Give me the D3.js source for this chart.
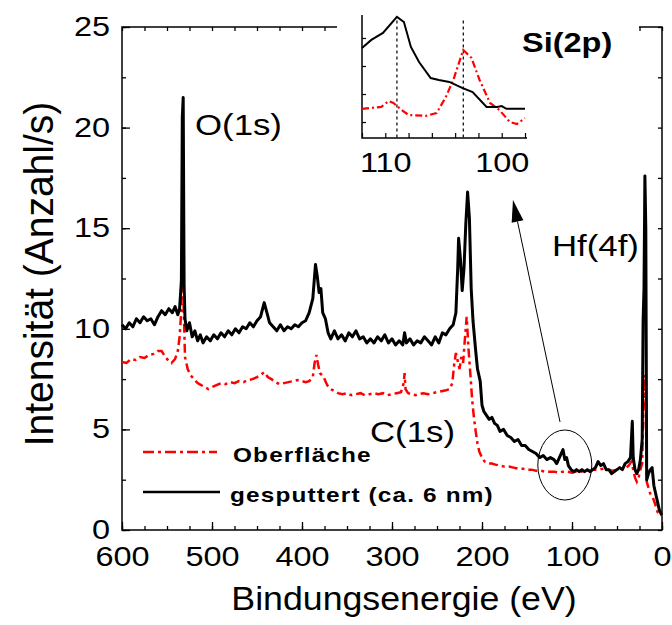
<!DOCTYPE html>
<html>
<head>
<meta charset="utf-8">
<script src="https://cdn.jsdelivr.net/npm/d3@7"></script>
<style>
  html, body { margin: 0; padding: 0; background: #fff; }
  svg { display: block; font-family: "Liberation Sans", Arial, sans-serif; }
</style>
</head>
<body>
<svg id="chart" width="672" height="625"></svg>
<script>
// XPS survey, sputtered sample (black) vs. surface (red dash-dot)
const sputteredEnergy = [600,596,592,588,584,580,576,572,568,564,560,556,552,548,544,541,538,536,534,533,532,531,530,528,525,522,519,516,513,510,506,502,498,494,490,486,482,478,474,470,466,462,458,454,450,446,442,439,436,432,428,424,420,416,412,408,404,400,396,392,388,385,383,381,379,377,374,371,368,364,360,356,352,348,344,340,336,332,328,324,320,316,312,308,304,300,296,292,288,286,284,280,276,272,268,264,260,256,252,248,244,240,236,232,229,227,226,224,222,220,218,216,214,212,210,207,205,202,200,198,195,192,189,186,183,180,176,172,168,164,160,156,152,148,144,140,136,132,128,124,120,117,114,112,110,108,106,104,101,98,95,92,89,86,83,80,77,74,71,68,65,62,59,56,53,50,47,44,41,38,35,33,32,30,28,26,24,22,21,20,19,18,17,15,13,11,9,7,5,3,1,0];
const sputtered = [10.2,10.0,10.3,10.1,10.5,10.3,10.6,10.4,10.5,10.2,10.6,10.9,10.7,11.0,10.8,11.1,10.7,11.0,12.4,20.5,21.5,12.2,10.5,9.9,10.3,9.6,9.9,9.4,9.7,9.3,9.6,9.4,9.7,9.5,9.8,9.6,9.9,9.7,10.0,9.8,10.1,10.0,10.3,10.1,10.4,10.6,11.3,10.8,10.3,10.1,9.9,10.2,9.9,10.1,10.0,10.2,10.1,10.3,10.4,10.8,11.5,13.2,12.6,11.8,12.0,10.8,10.5,9.8,9.5,9.9,9.5,9.7,9.4,9.8,9.6,9.9,9.5,9.6,9.3,9.5,9.3,9.6,9.4,9.7,9.3,9.5,9.2,9.4,9.2,9.8,9.3,9.5,9.2,9.4,9.3,9.6,9.4,9.2,9.6,9.3,9.8,9.7,10.0,10.2,10.8,13.0,14.5,13.5,11.9,13.0,15.2,16.8,15.5,12.0,10.4,8.9,8.0,7.4,6.2,5.9,5.7,5.5,5.6,5.3,5.2,4.9,5.0,4.7,4.6,4.4,4.5,4.2,4.2,4.0,3.9,3.8,3.6,3.7,3.5,3.6,3.5,3.3,3.6,3.8,4.0,3.5,3.6,3.2,3.0,2.9,3.0,2.9,3.0,2.9,3.0,2.9,3.0,3.1,3.4,3.2,3.3,3.0,3.0,2.8,2.9,3.0,3.1,3.0,3.3,3.4,3.6,5.4,3.6,3.0,2.8,3.0,3.5,4.5,10.4,12.0,17.6,15.0,2.5,2.8,3.0,3.1,2.2,1.8,1.4,1.0,0.8,0.75];

const surfaceEnergy = [600,595,590,585,580,575,570,565,560,556,552,548,545,541,538,536,534,533,532,530,527,524,520,516,512,508,504,500,495,490,485,480,475,470,465,460,455,450,446,442,438,434,430,425,420,415,410,405,400,396,392,388,386,384,382,380,376,372,368,364,360,355,350,345,340,335,330,325,320,315,310,305,300,295,290,287,286,285,282,278,274,270,265,260,255,250,245,240,236,233,231,229,227,225,223,221,219,217,215,213,211,209,207,205,203,200,197,193,189,185,180,175,170,165,160,155,150,145,140,135,130,125,120,115,110,105,100,95,90,85,80,75,70,65,60,55,50,45,40,37,34,32,30,28,26,24,22,21,20,19,18,17,15,13,10,7,5,3,0];
const surface = [8.35,8.3,8.5,8.45,8.6,8.55,8.7,8.75,8.9,8.9,8.6,8.4,8.3,8.5,8.9,9.6,11.0,13.2,12.0,8.6,8.0,7.7,7.5,7.3,7.2,7.1,7.0,7.1,7.2,7.3,7.25,7.35,7.3,7.4,7.35,7.45,7.5,7.6,7.7,7.85,7.6,7.5,7.35,7.25,7.3,7.35,7.4,7.45,7.4,7.35,7.4,7.6,8.3,8.7,8.2,7.8,7.6,7.2,7.0,6.9,6.8,6.75,6.8,6.7,6.75,6.8,6.7,6.75,6.8,6.75,6.8,6.7,6.75,6.8,6.85,7.3,7.8,7.0,6.8,6.75,6.7,6.75,6.8,6.75,6.8,6.85,6.9,6.95,7.0,7.3,8.2,8.8,8.4,8.0,8.6,8.3,9.5,10.6,9.0,7.8,6.5,5.6,4.9,4.3,3.9,3.6,3.4,3.3,3.3,3.25,3.2,3.15,3.15,3.1,3.05,3.05,3.0,3.0,2.95,2.95,2.9,2.9,2.9,2.85,2.9,2.9,2.85,2.9,2.9,2.95,2.95,3.0,3.0,3.05,3.0,2.95,3.0,3.05,3.1,3.2,3.4,3.0,2.6,2.4,2.6,3.0,3.3,5.5,6.5,7.7,6.0,2.4,2.1,1.8,1.6,1.2,0.9,0.8,0.7];

// Si(2p) inset, arbitrary intensity units
const insetSputteredEnergy = [112,111.2,110.2,109.0,108.4,107.8,107.1,106.1,105.4,104.5,103.4,102.5,101.3,100.4,100.0,99.6,98.0];
const insetSputtered = [3.64,3.93,4.18,4.75,4.57,3.68,3.14,2.57,2.50,2.43,2.22,2.07,1.54,1.54,1.57,1.47,1.47];
const insetSurfaceEnergy = [112,110.35,109.7,109.3,108.6,108.0,106.5,105.6,104.8,104.1,103.65,103.3,102.6,101.9,101.0,100.2,99.3,98.7,98.0];
const insetSurface = [1.47,1.54,1.75,1.68,1.43,1.25,1.22,1.32,1.89,2.57,3.14,3.57,3.29,2.50,1.68,1.43,1.00,0.93,1.14];
const insetMarkers = [109.0, 103.3];

const xMajor = d3.range(0, 601, 100);
const xMinor = d3.range(0, 601, 25);
const yMajor = d3.range(0, 26, 5);
const yMinor = d3.range(0, 25.1, 2.5);
const insetXMajor = [110, 100];
const insetXMinor = [112, 110, 108, 106, 104, 102, 100, 98];
const insetYTicks = [1, 2, 3, 4];

const legendItems = [
  { label: "Oberfläche", colour: "#ff0000", dash: "11,4,3,4" },
  { label: "gesputtert (ca. 6 nm)", colour: "#000", dash: null }
];

const SX = 1.16; // glyphs in the source are a bit wider than tall

function drawChart() {
  const svg = d3.select("#chart");
  const m = { left: 122, right: 662, top: 27, bottom: 530 };

  const x = d3.scaleLinear().domain([600, 0]).range([m.left, m.right]);
  const y = d3.scaleLinear().domain([0, 25]).range([m.bottom, m.top]);

  const line = d3.line().x(d => x(d[0])).y(d => y(d[1]));

  // minor ticks on all four sides
  const minorAxes = [
    [d3.axisBottom(x).tickValues(xMinor), `translate(0,${m.bottom})`],
    [d3.axisTop(x).tickValues(xMinor), `translate(0,${m.top})`],
    [d3.axisLeft(y).tickValues(yMinor), `translate(${m.left},0)`],
    [d3.axisRight(y).tickValues(yMinor), `translate(${m.right},0)`]
  ];
  minorAxes.forEach(([ax, tr]) => {
    svg.append("g").attr("transform", tr)
      .call(ax.tickSize(-4).tickSizeOuter(0).tickFormat(""))
      .call(g => g.select(".domain").remove())
      .selectAll("line").attr("stroke", "#000").attr("stroke-width", 1.3);
  });

  const xAxis = svg.append("g").attr("transform", `translate(0,${m.bottom})`)
    .call(d3.axisBottom(x).tickValues(xMajor).tickSize(-8).tickSizeOuter(0).tickPadding(16));
  const yAxis = svg.append("g").attr("transform", `translate(${m.left},0)`)
    .call(d3.axisLeft(y).tickValues(yMajor).tickSize(-8).tickSizeOuter(0).tickPadding(12));
  [xAxis, yAxis].forEach(g => {
    g.select(".domain").remove();
    g.selectAll("line").attr("stroke", "#000").attr("stroke-width", 1.3);
    g.selectAll("text").attr("font-size", 28).attr("fill", "#000")
      .attr("font-family", "Liberation Sans, Arial, sans-serif");
  });
  xAxis.selectAll("text").attr("transform", `scale(${SX},1)`);
  yAxis.selectAll("text").attr("x", 0).attr("dy", "0.3em")
    .attr("transform", `translate(-12,0) scale(${SX},1)`);

  // frame
  svg.append("rect")
    .attr("x", m.left).attr("y", m.top)
    .attr("width", m.right - m.left).attr("height", m.bottom - m.top)
    .attr("fill", "none").attr("stroke", "#000").attr("stroke-width", 1.5);

  const plot = svg.append("g");
  plot.append("path")
    .datum(d3.zip(surfaceEnergy, surface))
    .attr("d", line)
    .attr("fill", "none").attr("stroke", "#ff0000").attr("stroke-width", 2.5)
    .attr("stroke-dasharray", "9,4,3,4");
  plot.append("path")
    .datum(d3.zip(sputteredEnergy, sputtered))
    .attr("d", line)
    .attr("fill", "none").attr("stroke", "#000").attr("stroke-width", 3)
    .attr("stroke-linejoin", "round");

  // axis titles
  svg.append("text")
    .attr("transform", `translate(404,610) scale(1.05,1)`)
    .attr("text-anchor", "middle").attr("font-size", 34)
    .text("Bindungsenergie (eV)");
  svg.append("text")
    .attr("transform", `translate(53,274) rotate(-90) scale(1,1.05)`)
    .attr("text-anchor", "middle").attr("font-size", 39)
    .text("Intensität (Anzahl/s)");

  // peak labels
  const peakLabel = (tx, ty, s) => svg.append("text")
    .attr("transform", `translate(${tx},${ty}) scale(${SX},1)`)
    .attr("font-size", 30).text(s);
  peakLabel(195, 135, "O(1s)");
  peakLabel(370, 442, "C(1s)");
  peakLabel(552, 256, "Hf(4f)");

  // legend
  legendItems.forEach((item, i) => {
    const ly = 452 + i * 40;
    svg.append("line")
      .attr("x1", 143).attr("x2", i ? 220 : 217).attr("y1", ly).attr("y2", ly)
      .attr("stroke", item.colour).attr("stroke-width", 2.5)
      .attr("stroke-dasharray", item.dash);
    svg.append("text")
      .attr("transform", `translate(${i ? 230 : 233},${ly + 10}) scale(${SX},1)`)
      .attr("font-size", 21).attr("font-weight", "bold").attr("letter-spacing", 1)
      .text(item.label);
  });

  // circle around Si(2p) region and arrow to the inset
  svg.append("ellipse")
    .attr("cx", x(108)).attr("cy", y(3.23))
    .attr("rx", x(78) - x(108)).attr("ry", y(0) - y(1.74))
    .attr("fill", "none").attr("stroke", "#000").attr("stroke-width", 1);
  const a0 = [x(113.3), y(5.37)], a1 = [x(165.6), y(16.4)];
  const ang = Math.atan2(a1[1] - a0[1], a1[0] - a0[0]);
  const headLen = 22, headW = 6;
  const bx = a1[0] - headLen * Math.cos(ang), by = a1[1] - headLen * Math.sin(ang);
  svg.append("line")
    .attr("x1", a0[0]).attr("y1", a0[1]).attr("x2", bx).attr("y2", by)
    .attr("stroke", "#000").attr("stroke-width", 1);
  svg.append("path")
    .attr("d", `M${a1[0]},${a1[1]}L${bx + headW * Math.sin(ang)},${by - headW * Math.cos(ang)}L${bx - headW * Math.sin(ang)},${by + headW * Math.cos(ang)}Z`)
    .attr("fill", "#000");

  drawInset(svg);
}

function drawInset(svg) {
  // white patch hides the main frame behind the inset
  svg.append("rect").attr("x", 337).attr("y", 0).attr("width", 302).attr("height", 182).attr("fill", "#fff");

  const ix = d3.scaleLinear().domain([112, 98]).range([362, 525]);
  const iy = d3.scaleLinear().domain([0.43, 4.82]).range([138, 15]);
  const line = d3.line().x(d => ix(d[0])).y(d => iy(d[1]));
  const g = svg.append("g");

  g.append("g").attr("transform", "translate(0,138)")
    .call(d3.axisBottom(ix).tickValues(insetXMinor).tickSize(-5).tickSizeOuter(0).tickFormat(""))
    .call(a => a.select(".domain").remove())
    .selectAll("line").attr("stroke", "#000").attr("stroke-width", 1.2);
  const xl = g.append("g").attr("transform", "translate(0,138)")
    .call(d3.axisBottom(ix).tickValues(insetXMajor).tickSize(0).tickPadding(14));
  xl.select(".domain").remove();
  xl.selectAll("text").attr("font-size", 28).attr("fill", "#000")
    .attr("font-family", "Liberation Sans, Arial, sans-serif")
    .attr("transform", `scale(${SX},1)`);

  g.append("g").attr("transform", "translate(362,0)")
    .call(d3.axisLeft(iy).tickValues(insetYTicks).tickSize(-4).tickSizeOuter(0).tickFormat(""))
    .call(a => a.select(".domain").remove())
    .selectAll("line").attr("stroke", "#000").attr("stroke-width", 1.2);

  g.append("path").attr("d", `M362,15V138H527`)
    .attr("fill", "none").attr("stroke", "#000").attr("stroke-width", 1.5);

  insetMarkers.forEach(e => {
    g.append("line")
      .attr("x1", ix(e)).attr("x2", ix(e)).attr("y1", iy(4.62)).attr("y2", 138)
      .attr("stroke", "#000").attr("stroke-width", 1.2).attr("stroke-dasharray", "3,3");
  });

  g.append("path").datum(d3.zip(insetSurfaceEnergy, insetSurface)).attr("d", line)
    .attr("fill", "none").attr("stroke", "#ff0000").attr("stroke-width", 2.2)
    .attr("stroke-dasharray", "7,3,2,3");
  g.append("path").datum(d3.zip(insetSputteredEnergy, insetSputtered)).attr("d", line)
    .attr("fill", "none").attr("stroke", "#000").attr("stroke-width", 2);

  g.append("text")
    .attr("transform", `translate(522,52) scale(${SX},1)`)
    .attr("font-size", 28).attr("font-weight", "bold").text("Si(2p)");
}

drawChart();
</script>
</body>
</html>
